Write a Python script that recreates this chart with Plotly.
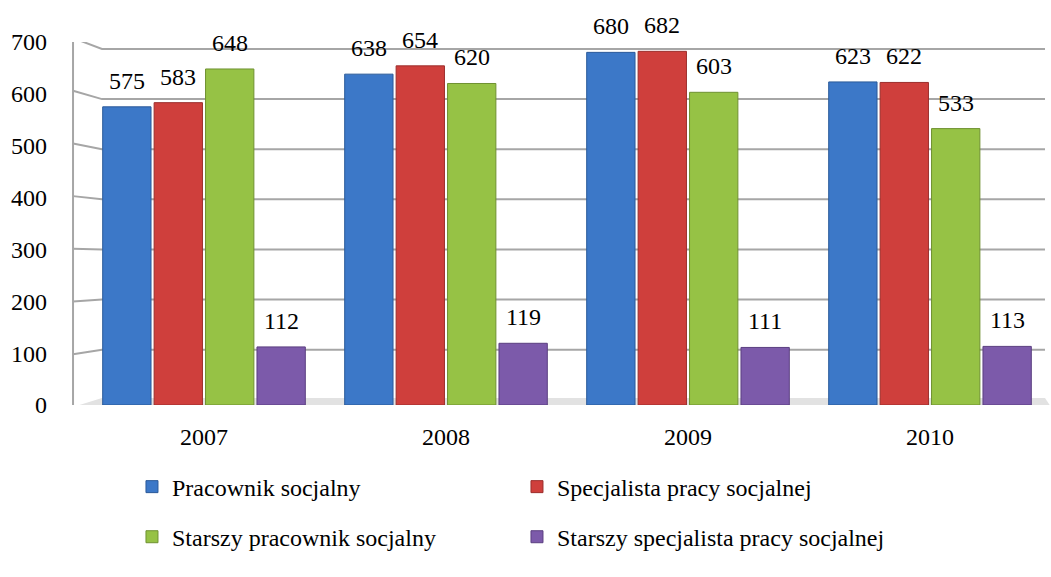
import plotly.graph_objects as go

years = ["2007", "2008", "2009", "2010"]
series_names = [
    "Pracownik socjalny",
    "Specjalista pracy socjalnej",
    "Starszy pracownik socjalny",
    "Starszy specjalista pracy socjalnej",
]
pracownik = [575, 638, 680, 623]
specjalista = [583, 654, 682, 622]
starszy_pracownik = [648, 620, 603, 533]
starszy_specjalista = [112, 119, 111, 113]
y_ticks = [0, 100, 200, 300, 400, 500, 600, 700]

values = [pracownik, specjalista, starszy_pracownik, starszy_specjalista]
colors = ["#3C78C8", "#CF3F3C", "#96C245", "#7C5AAA"]
side_colors = ["#2B5A99", "#9C2E2C", "#6F9131", "#5B3F80"]

FONT = "Liberation Serif, Times New Roman, serif"
BARGAP = 0.15
GROUPGAP = 0.06

fig = go.Figure()
for k, (name, vals, col, side) in enumerate(zip(series_names, values, colors, side_colors)):
    fig.add_trace(go.Bar(
        x=years, y=vals, name=name,
        marker=dict(color=col, line=dict(width=1, color=side)),
        legend="legend" if k < 2 else "legend2",
        hoverinfo="x+y+name",
    ))

# data labels, placed over each bar via the group layout
n = len(values)
slot = (1 - BARGAP) / n
for k, vals in enumerate(values):
    for i, v in enumerate(vals):
        xpos = i - (1 - BARGAP) / 2 + (k + 0.5) * slot
        fig.add_annotation(x=xpos, y=v, xref="x", yref="y", text=str(v),
                           showarrow=False, yanchor="middle", yshift=26,
                           font=dict(family=FONT, size=24, color="#000000"))

# back wall gridlines with perspective slant on the left wall
shapes = []
XL, XB, XR = -0.0103, 0.0196, 0.9938
for v in y_ticks[1:]:
    front = -(2 - 0.0086 * v)        # px, positive is up
    back = -(0.0175 * (v - 300))
    shapes.append(dict(type="path", xref="paper", yref="y", ysizemode="pixel", yanchor=v,
                       path=f"M{XL},{front} L{XB},{back} L{XR},{back}",
                       line=dict(color="#A6A6A6", width=2), layer="below"))
# floor
shapes.append(dict(type="path", xref="paper", yref="y", ysizemode="pixel", yanchor=0,
                   path=f"M{XL},-2 L{XB},7 L{XR},7 L1.0,-2 Z",
                   fillcolor="#E2E2E2", line=dict(width=0), layer="below"))
shapes.append(dict(type="path", xref="paper", yref="y", ysizemode="pixel", yanchor=0,
                   path=f"M{XL},-2 L1.0,-2",
                   line=dict(color="#A0A0A0", width=2), layer="below"))
# left wall
shapes.append(dict(type="line", xref="paper", yref="y", x0=XL, x1=XL, y0=0, y1=700,
                   ysizemode="scaled", line=dict(color="#A6A6A6", width=2), layer="below"))

fig.update_layout(
    width=1051, height=577,
    font=dict(family=FONT, size=24, color="#000000"),
    margin=dict(l=83, r=0, t=42, b=172),
    paper_bgcolor="white", plot_bgcolor="white",
    barmode="group", bargap=BARGAP, bargroupgap=GROUPGAP,
    shapes=shapes,
    xaxis=dict(type="category", showgrid=False, zeroline=False, showline=False,
               ticks="", ticklabelstandoff=15,
               tickfont=dict(family=FONT, size=24, color="#000000")),
    yaxis=dict(range=[0, 700], tickvals=y_ticks, showgrid=False, zeroline=False,
               showline=False, ticks="", ticklabelstandoff=35,
               tickfont=dict(family=FONT, size=24, color="#000000")),
    legend=dict(orientation="h", x=0.0506, xanchor="left", y=-0.226, yanchor="middle",
                entrywidth=340, entrywidthmode="pixels",
                font=dict(family=FONT, size=24, color="#000000")),
    legend2=dict(orientation="h", x=0.0506, xanchor="left", y=-0.364, yanchor="middle",
                 entrywidth=340, entrywidthmode="pixels",
                 font=dict(family=FONT, size=24, color="#000000")),
    showlegend=True,
)

fig.write_html("out.html", config={"displayModeBar": False},
               post_script="document.body.style.margin='0';document.body.style.overflow='hidden';")
